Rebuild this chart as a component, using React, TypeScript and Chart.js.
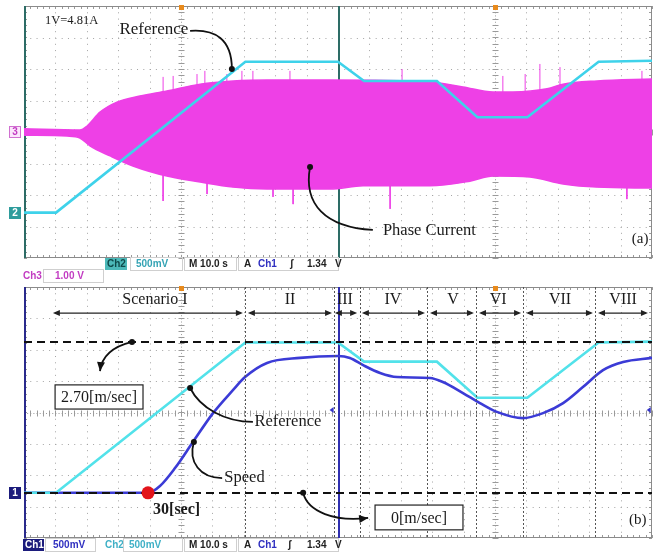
import React, { useEffect, useRef } from 'react';
import { Chart, registerables } from 'chart.js';
Chart.register(...registerables);

// x: seconds (10 s/div, two 100 s scope screens side by side), y: divisions
const REF_T = [0, 10.2, 70.5, 100, 108.3, 131.5, 144.4, 160.3, 183.0, 200];
const REF_V = [-2.56, -2.56, 2.23, 2.23, 1.62, 1.62, 0.47, 0.47, 2.23, 2.26];

const CUR_UP_T = [0, 17.8, 20.1, 24.2, 29.6, 36.9, 45.5, 56.1, 66.6, 77.4, 97.5, 129.3, 139.8, 149.4, 155.7, 166.6, 171.7, 182.5, 200];
const CUR_UP_V = [0.10, 0.06, 0.19, 0.63, 0.95, 1.14, 1.30, 1.52, 1.62, 1.65, 1.65, 1.59, 1.43, 1.27, 1.27, 1.37, 1.52, 1.62, 1.68];
const CUR_LO_T = [0, 13.7, 17.8, 21.0, 27.4, 34.7, 45.5, 56.1, 66.6, 77.4, 97.5, 108, 129.3, 142, 149.4, 161.1, 171.7, 182.5, 200];
const CUR_LO_V = [-0.10, -0.13, -0.19, -0.44, -0.76, -1.08, -1.40, -1.59, -1.75, -1.81, -1.81, -1.71, -1.71, -1.56, -1.40, -1.43, -1.65, -1.75, -1.78];

const SPIKE_UP_T = [44.3, 47.5, 55.1, 57.6, 64.6, 69.4, 72.9, 84.7, 120.4, 152.5, 159.6, 164.3, 170.7, 196.8];
const SPIKE_UP_V = [1.75, 1.78, 1.84, 1.94, 1.84, 1.94, 1.94, 1.94, 2.0, 1.78, 1.84, 2.16, 2.06, 1.94];
const SPIKE_DN_T = [44.3, 58.3, 79.3, 85.7, 116.6, 192];
const SPIKE_DN_V = [-2.19, -1.97, -2.06, -2.29, -2.44, -2.13];

const SPD_T = [0, 39.5, 43.3, 48.1, 53.8, 60.2, 66.6, 70.4, 77.4, 87.9, 100, 103.8, 108, 113.4, 118.8, 129.3, 133.4, 139.8, 145.2, 150.6, 158.9, 165.3, 171.7, 178, 184.4, 190.8, 200];
const SPD_V = [-2.56, -2.56, -2.34, -1.77, -0.94, -0.02, 0.72, 1.13, 1.58, 1.74, 1.80, 1.74, 1.51, 1.26, 1.13, 1.10, 0.97, 0.62, 0.30, 0.02, -0.18, -0.02, 0.30, 0.81, 1.35, 1.61, 1.74];
const SPD_MARK_INDEX = 1; // 30[sec] point

const SCEN_LABELS = ['Scenario I', 'II', 'III', 'IV', 'V', 'VI', 'VII', 'VIII'];
const SCEN_START = [9.2, 71.3, 99.0, 107.6, 129.3, 144.9, 159.9, 182.8];
const SCEN_END = [69.7, 98.1, 106.1, 127.7, 143.3, 158.3, 181.2, 198.7];
const SCEN_LABEL_T = [41.7, 84.7, 102.2, 117.5, 136.6, 151.0, 170.7, 190.8];
const SCEN_SEP_T = [70.4, 98.6, 107.0, 128.3, 144.0, 158.9, 181.8];
const SPEED_LEVELS = [2.25, -2.56]; // 2.70 m/s and 0 m/s

const MAG = '#ee40e6';
const SERIF = '"Liberation Serif", "DejaVu Serif", serif';
const SANS = '"Liberation Sans", "DejaVu Sans", sans-serif';

const pts = (t: number[], v: number[]) => t.map((x, i) => ({ x, y: v[i] }));
const spikes = (t: number[], v: number[]) =>
  t.flatMap((x, i) => [{ x, y: 0 }, { x, y: v[i] }, { x, y: null as any }]);

function px(c: any) {
  const X = (t: number) => c.scales.x.getPixelForValue(t);
  const Y = (v: number) => c.scales.y.getPixelForValue(v);
  return { X, Y };
}

function line(ctx: any, x1: number, y1: number, x2: number, y2: number) {
  ctx.beginPath(); ctx.moveTo(x1, y1); ctx.lineTo(x2, y2); ctx.stroke();
}

function graticule(c: any, edge: string, sep: string) {
  const { ctx, chartArea: a } = c;
  const { X, Y } = px(c);
  const L = Math.round(a.left), R = Math.round(a.right), T = Math.round(a.top), B = Math.round(a.bottom);
  const hs = X(2) - X(0);
  const vs = Y(0) - Y(0.2);
  ctx.save();
  ctx.lineWidth = 1;
  ctx.strokeStyle = '#a4a4a4';
  ctx.setLineDash([1, vs - 1]);
  for (let t = 10; t < 200; t += 10) {
    if (t % 50 === 0) continue;
    const x = Math.round(X(t)) + 0.5;
    line(ctx, x, T, x, B);
  }
  ctx.setLineDash([1, hs - 1]);
  for (let v = -3; v <= 3; v++) {
    if (v === 0) continue;
    const y = Math.round(Y(v)) + 0.5;
    line(ctx, L, y, R, y);
  }
  ctx.strokeStyle = '#9a9a9a';
  ctx.setLineDash([1, vs / 2 - 1]);
  for (const t of [50, 150]) {
    const x = Math.round(X(t)) + 0.5;
    line(ctx, x, T, x, B);
  }
  ctx.setLineDash([1, hs / 2 - 1]);
  const y0 = Math.round(Y(0)) + 0.5;
  line(ctx, L, y0, R, y0);
  ctx.setLineDash([]);
  for (const t of [50, 150]) {
    const x = Math.round(X(t)) + 0.5;
    for (let v = -4; v <= 4.001; v += 0.2) {
      const y = Math.round(Y(v)) + 0.5;
      line(ctx, x - 3, y, x + 3, y);
    }
  }
  for (let t = 0; t <= 200.001; t += 2) {
    const x = Math.round(X(t)) + 0.5;
    line(ctx, x, y0 - 3, x, y0 + 3);
    line(ctx, x, T, x, T + 3);
    line(ctx, x, B - 3, x, B);
  }
  for (let v = -4; v <= 4.001; v += 0.2) {
    const y = Math.round(Y(v)) + 0.5;
    line(ctx, L, y, L + 3, y);
    line(ctx, R - 3, y, R, y);
  }
  ctx.strokeStyle = '#8a8a8a';
  ctx.strokeRect(L + 0.5, T + 0.5, R - L - 1, B - T - 1);
  ctx.lineWidth = 2;
  ctx.strokeStyle = edge;
  line(ctx, L + 1, T, L + 1, B);
  ctx.strokeStyle = sep;
  const xs = Math.round(X(100)) + 1;
  line(ctx, xs, T, xs, B);
  ctx.fillStyle = '#e88a1c';
  for (const t of [50, 150]) ctx.fillRect(Math.round(X(t)) - 2, T - 1, 5, 5);
  ctx.restore();
}

function text(c: any, s: string, t: number, v: number, font: string, align = 'left', color = '#1a1a1a') {
  const { ctx } = c; const { X, Y } = px(c);
  ctx.save();
  ctx.font = font; ctx.fillStyle = color; ctx.textAlign = align; ctx.textBaseline = 'middle';
  ctx.fillText(s, X(t), Y(v));
  ctx.restore();
}

function arrowHead(ctx: any, x: number, y: number, ang: number, len = 8, w = 4) {
  ctx.beginPath();
  ctx.moveTo(x, y);
  ctx.lineTo(x - len * Math.cos(ang) + w * Math.sin(ang), y - len * Math.sin(ang) - w * Math.cos(ang));
  ctx.lineTo(x - len * Math.cos(ang) - w * Math.sin(ang), y - len * Math.sin(ang) + w * Math.cos(ang));
  ctx.closePath(); ctx.fill();
}

function curve(c: any, p0: number[][], dot: 'start' | 'end' | 'none', arrow: boolean) {
  const { ctx } = c; const { X, Y } = px(c);
  const p = p0.map(([t, v]) => [X(t), Y(v)]);
  ctx.save();
  ctx.strokeStyle = '#111'; ctx.fillStyle = '#111'; ctx.lineWidth = 1.8;
  ctx.beginPath(); ctx.moveTo(p[0][0], p[0][1]);
  ctx.bezierCurveTo(p[1][0], p[1][1], p[2][0], p[2][1], p[3][0], p[3][1]);
  ctx.stroke();
  if (dot !== 'none') {
    const q = dot === 'start' ? p[0] : p[3];
    ctx.beginPath(); ctx.arc(q[0], q[1], 3, 0, Math.PI * 2); ctx.fill();
  }
  if (arrow) {
    const ang = Math.atan2(p[3][1] - p[2][1], p[3][0] - p[2][0]);
    arrowHead(ctx, p[3][0], p[3][1], ang, 9, 4);
  }
  ctx.restore();
}

function boxText(c: any, s: string, t1: number, t2: number, v1: number, v2: number) {
  const { ctx } = c; const { X, Y } = px(c);
  ctx.save();
  ctx.fillStyle = '#fff';
  const x = X(t1), y = Y(v1), w = X(t2) - X(t1), h = Y(v2) - Y(v1);
  ctx.fillRect(x, y, w, h);
  ctx.strokeStyle = '#222'; ctx.lineWidth = 1.2;
  ctx.strokeRect(x, y, w, h);
  ctx.font = `16px ${SERIF}`; ctx.fillStyle = '#1a1a1a'; ctx.textAlign = 'center'; ctx.textBaseline = 'middle';
  ctx.fillText(s, x + w / 2, y + h / 2 + 1);
  ctx.restore();
}

function chMarker(ctx: any, label: string, y: number, fill: string, fg: string, stroke?: string) {
  ctx.save();
  ctx.fillStyle = fill;
  ctx.fillRect(9, y - 6, 12, 12);
  if (stroke) { ctx.strokeStyle = stroke; ctx.lineWidth = 1; ctx.strokeRect(9.5, y - 5.5, 11, 11); }
  ctx.font = `bold 10px ${SANS}`; ctx.fillStyle = fg; ctx.textAlign = 'center'; ctx.textBaseline = 'middle';
  ctx.fillText(label, 15, y + 0.5);
  ctx.restore();
}

function info(ctx: any, items: any[]) {
  ctx.save();
  ctx.textBaseline = 'middle';
  ctx.font = `bold 10px ${SANS}`;
  for (const it of items) {
    if (it.box) {
      ctx.fillStyle = it.box;
      ctx.fillRect(it.x - 2, it.y - 6, it.w, 12);
    }
    if (it.outline) {
      ctx.strokeStyle = '#cfcfcf'; ctx.lineWidth = 1;
      ctx.strokeRect(it.x + 0.5, it.y - 6.5, it.w, 13);
      continue;
    }
    ctx.fillStyle = it.c || '#222';
    ctx.fillText(it.s, it.x, it.y);
  }
  ctx.restore();
}

function drawA(c: any) {
  const { ctx } = c; const { Y } = px(c);
  text(c, '1V=4.81A', 6.7, 3.52, `12.5px ${SERIF}`);
  text(c, 'Reference', 30.4, 3.24, `17px ${SERIF}`);
  curve(c, [[52.9, 3.21], [60.8, 3.27], [66.2, 2.95], [66.2, 2.0]], 'end', false);
  text(c, 'Phase Current', 114.3, -3.14, `16.5px ${SERIF}`);
  curve(c, [[91.1, -1.11], [88.9, -2.29], [95.9, -3.02], [111.1, -3.11]], 'start', false);
  text(c, '(a)', 196.2, -3.40, `15px ${SERIF}`, 'center');
  chMarker(ctx, '3', Math.round(Y(0)), '#fbe6fb', '#c23cc2', '#d070d0');
  chMarker(ctx, '2', Math.round(Y(REF_V[0])), '#2e9c9c', '#fff');
  const y = c.chartArea.bottom + 6;
  info(ctx, [
    { s: 'Ch2', x: 107, y, box: '#4cb9b9', w: 22, c: '#0e4a4a' },
    { outline: true, x: 130, y, w: 52 },
    { s: '500mV', x: 136, y, c: '#34a3b4' },
    { outline: true, x: 184, y, w: 52 },
    { s: 'M 10.0 s', x: 189, y },
    { outline: true, x: 238, y, w: 100 },
    { s: 'A', x: 244, y },
    { s: 'Ch1', x: 258, y, c: '#2f2fc0' },
    { s: 'ʃ', x: 290, y },
    { s: '1.34', x: 307, y },
    { s: 'V', x: 335, y },
    { s: 'Ch3', x: 23, y: y + 12, c: '#c23cc2' },
    { outline: true, x: 43, y: y + 12, w: 60 },
    { s: '1.00 V', x: 55, y: y + 12, c: '#c23cc2' },
  ]);
}

function drawB(c: any) {
  const { ctx, chartArea: a } = c; const { X, Y } = px(c);
  ctx.save();
  ctx.strokeStyle = '#555'; ctx.lineWidth = 1; ctx.setLineDash([2, 2]);
  for (const t of SCEN_SEP_T) {
    const x = Math.round(X(t)) + 0.5;
    line(ctx, x, a.top, x, a.bottom);
  }
  ctx.setLineDash([]);
  ctx.strokeStyle = '#222'; ctx.fillStyle = '#222'; ctx.lineWidth = 1.3;
  const ya = Y(3.17);
  SCEN_START.forEach((s, i) => {
    const x1 = X(s), x2 = X(SCEN_END[i]);
    line(ctx, x1 + 2, ya, x2 - 2, ya);
    arrowHead(ctx, x1, ya, Math.PI, 7, 3);
    arrowHead(ctx, x2, ya, 0, 7, 3);
  });
  ctx.strokeStyle = '#111'; ctx.lineWidth = 2; ctx.setLineDash([8, 5]);
  for (const v of SPEED_LEVELS) {
    const y = Math.round(Y(v));
    line(ctx, a.left, y, a.right, y);
  }
  ctx.setLineDash([]);
  ctx.restore();
  SCEN_LABELS.forEach((s, i) => text(c, s, SCEN_LABEL_T[i], 3.58, `16px ${SERIF}`, 'center'));
  curve(c, [[34.4, 2.25], [29.0, 2.12], [24.8, 1.83], [24.2, 1.32]], 'start', true);
  boxText(c, '2.70[m/sec]', 9.9, 37.9, 0.88, 0.11);
  curve(c, [[52.9, 0.78], [56.1, 0.14], [64.0, -0.30], [72.9, -0.30]], 'start', false);
  text(c, 'Reference', 73.4, -0.30, `16.5px ${SERIF}`);
  curve(c, [[54.1, -0.94], [52.2, -1.58], [56.1, -2.09], [63.1, -2.09]], 'start', false);
  text(c, 'Speed', 63.8, -2.09, `16.5px ${SERIF}`);
  text(c, '30[sec]', 41.1, -3.11, `bold 16px ${SERIF}`);
  curve(c, [[88.9, -2.56], [90.4, -3.17], [99.0, -3.49], [109.6, -3.36]], 'start', true);
  boxText(c, '0[m/sec]', 111.8, 139.8, -2.95, -3.74);
  text(c, '(b)', 195.5, -3.42, `15px ${SERIF}`, 'center');
  const pt = c.getDatasetMeta(1).data[SPD_MARK_INDEX];
  ctx.save();
  ctx.fillStyle = '#e3141b';
  ctx.beginPath(); ctx.arc(pt.x, pt.y, 6.5, 0, Math.PI * 2); ctx.fill();
  ctx.fillStyle = '#3434c8';
  for (const t of [98.6, 199.6]) arrowHead(ctx, X(t) - 4, Y(0.08), Math.PI, 4, 3);
  ctx.restore();
  chMarker(ctx, '1', Math.round(Y(SPD_V[0])), '#1c1c7c', '#fff');
  const y = a.bottom + 7;
  info(ctx, [
    { s: 'Ch1', x: 25, y, box: '#1c1c7c', w: 21, c: '#fff' },
    { outline: true, x: 45, y, w: 50 },
    { s: '500mV', x: 53, y, c: '#3030c0' },
    { s: 'Ch2', x: 105, y, c: '#3fb0c6' },
    { outline: true, x: 123, y, w: 59 },
    { s: '500mV', x: 129, y, c: '#3fb0c6' },
    { outline: true, x: 184, y, w: 52 },
    { s: 'M 10.0 s', x: 189, y },
    { outline: true, x: 238, y, w: 100 },
    { s: 'A', x: 244, y },
    { s: 'Ch1', x: 258, y, c: '#2f2fc0' },
    { s: 'ʃ', x: 288, y },
    { s: '1.34', x: 307, y },
    { s: 'V', x: 335, y },
  ]);
}

function makeChart(canvas: HTMLCanvasElement, datasets: any[], padding: any, edge: string, sep: string, draw: (c: any) => void) {
  return new Chart(canvas, {
    type: 'line',
    data: { datasets },
    options: {
      animation: false,
      responsive: false,
      maintainAspectRatio: false,
      events: [],
      layout: { padding },
      plugins: { legend: { display: false }, tooltip: { enabled: false } },
      elements: { point: { radius: 0 } },
      scales: {
        x: { type: 'linear', min: 0, max: 200, display: false },
        y: { type: 'linear', min: -4, max: 4, display: false },
      },
    } as any,
    plugins: [{
      id: 'scope',
      beforeDatasetsDraw: (c: any) => graticule(c, edge, sep),
      afterDraw: (c: any) => draw(c),
    }],
  });
}

export default function App() {
  const aRef = useRef<HTMLCanvasElement>(null);
  const bRef = useRef<HTMLCanvasElement>(null);
  useEffect(() => {
    const ca = makeChart(aRef.current!, [
      { data: pts(REF_T, REF_V), borderColor: '#3ed2ea', borderWidth: 2.6, pointRadius: 0 },
      { data: pts(CUR_UP_T, CUR_UP_V), borderColor: MAG, backgroundColor: MAG, borderWidth: 1.5, fill: '+1', cubicInterpolationMode: 'monotone', pointRadius: 0 },
      { data: pts(CUR_LO_T, CUR_LO_V), borderColor: MAG, borderWidth: 1.5, fill: false, cubicInterpolationMode: 'monotone', pointRadius: 0 },
      { data: spikes(SPIKE_UP_T, SPIKE_UP_V), borderColor: MAG, borderWidth: 1, spanGaps: false, pointRadius: 0 },
      { data: spikes(SPIKE_DN_T, SPIKE_DN_V), borderColor: MAG, borderWidth: 1, spanGaps: false, pointRadius: 0 },
    ], { left: 24, right: 10, top: 6, bottom: 27 }, '#2d6c66', '#2d6c66', drawA);
    const cb = makeChart(bRef.current!, [
      { data: pts(REF_T, REF_V), borderColor: '#52e2ea', borderWidth: 2.6, pointRadius: 0 },
      { data: pts(SPD_T, SPD_V), borderColor: '#3b3bd6', borderWidth: 2.6, cubicInterpolationMode: 'monotone', pointRadius: 0 },
    ], { left: 24, right: 10, top: 2, bottom: 14 }, '#2a2a8c', '#2f2fb0', drawB);
    return () => { ca.destroy(); cb.destroy(); };
  }, []);
  return (
    <div style={{ position: 'absolute', left: 0, top: 0, width: 662, height: 552, background: '#fff' }}>
      <canvas ref={aRef} width={662} height={285} style={{ position: 'absolute', left: 0, top: 0 }} />
      <canvas ref={bRef} width={662} height={267} style={{ position: 'absolute', left: 0, top: 285 }} />
    </div>
  );
}
